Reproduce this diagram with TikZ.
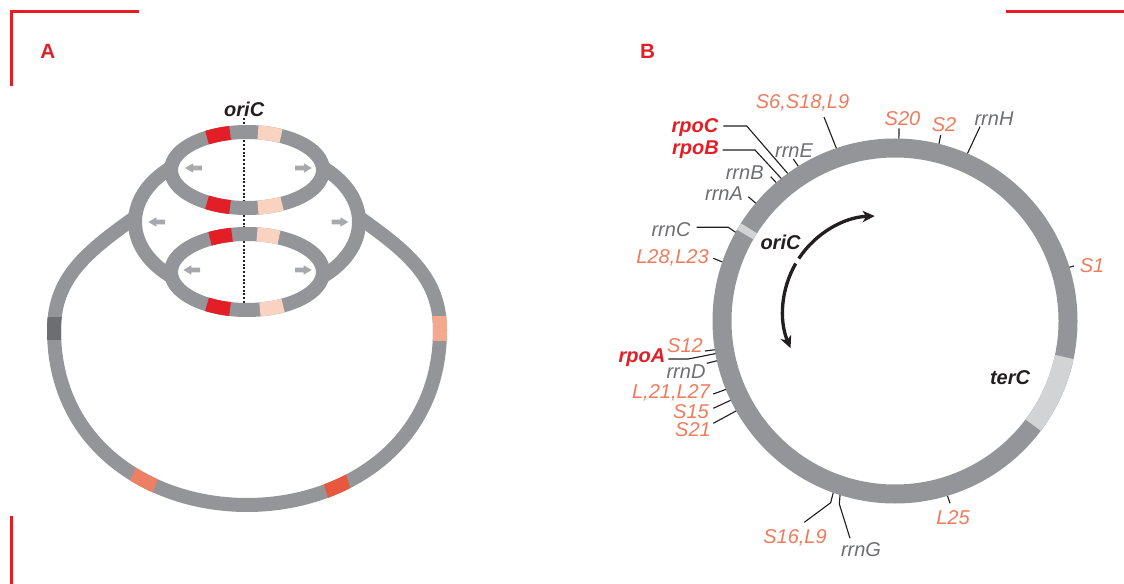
\documentclass[tikz,border=0pt]{standalone}
\usepackage{fontspec}
\setmainfont{Liberation Sans}
\usetikzlibrary{arrows.meta,calc}

\definecolor{ringgray}{HTML}{939598}
\definecolor{lightband}{HTML}{D1D3D4}
\definecolor{darkband}{HTML}{6D6E71}
\definecolor{accentred}{HTML}{E41E26}
\definecolor{peach}{HTML}{FAD2C0}
\definecolor{apricot}{HTML}{F4A88C}
\definecolor{salmon}{HTML}{ED8064}
\definecolor{vermilion}{HTML}{E8583C}
\definecolor{forkgray}{HTML}{A7A9AC}
\definecolor{inkblack}{HTML}{231F20}
\definecolor{labelsalmon}{HTML}{EF7A5C}
\definecolor{labelgray}{HTML}{6D6E71}

% coloured stretch of an elliptic ring: colour, cx, cy, rx, ry, start, end
\newcommand\ellband[7]{%
  \draw[line width=10.5pt,draw=#1] (#2,#3) ++(#6:#4 and #5)
    arc[start angle=#6,end angle=#7,x radius=#4,y radius=#5];}

% outer loop of the replicating chromosome
\def\bigloop{(165,196) .. controls (100,243) and (54,268) .. (54,330)
  .. controls (54,445) and (150,505) .. (247,505)
  .. controls (344,505) and (440,445) .. (440,330)
  .. controls (440,268) and (394,243) .. (329,196)}

\begin{document}
\begin{tikzpicture}[x=0.75pt,y=-0.75pt,
  ringA/.style={draw=ringgray,line width=10.5pt},
  ringB/.style={draw=ringgray,line width=14.25pt},
  leader/.style={draw=inkblack,line width=0.85pt},
  gene/.style={font=\fontsize{15}{18}\selectfont\itshape,inner sep=0pt},
  rprot/.style={gene,text=labelsalmon},
  rrna/.style={gene,text=labelgray},
  rpo/.style={gene,text=accentred,font=\fontsize{15}{18}\selectfont\bfseries\itshape},
  site/.style={gene,text=inkblack,font=\fontsize{15}{18}\selectfont\bfseries\itshape},
  panel/.style={text=accentred,font=\fontsize{15.5}{18}\selectfont\bfseries,inner sep=0pt},
  corner/.style={draw=accentred,line width=2.25pt},
  forkR/.pic={\fill[forkgray] (-8.3,-2.4) -- (0.4,-2.4) -- (0.4,-4.7) -- (8.3,0)
      -- (0.4,4.7) -- (0.4,2.4) -- (-8.3,2.4) -- cycle;},
  forkL/.pic={\fill[forkgray] (8.3,-2.4) -- (-0.4,-2.4) -- (-0.4,-4.7) -- (-8.3,0)
      -- (-0.4,4.7) -- (-0.4,2.4) -- (8.3,2.4) -- cycle;},
  fork/.style={line width=2.5pt,draw=inkblack,
      -{Stealth[length=9pt,width=8.5pt,inset=2.5pt]}},
]
\useasboundingbox (0,0) rectangle (1124,584);

% crop corners
\draw[corner] (139.3,11.8) -- (11.7,11.8) -- (11.7,86);
\draw[corner] (1005.7,11.8) -- (1124,11.8);
\draw[corner] (11.7,516) -- (11.7,584);

% panel letters
\node[panel] (panelA) at (47.8,51.5) {A};
\node[panel] (panelB) at (647.5,51.5) {B};

% ---------------- panel A: theta structures ----------------
\draw[ringA] \bigloop;
\begin{scope}
  \clip (30,318) rectangle (80,340);
  \draw[ringA,draw=darkband] \bigloop;
\end{scope}
\begin{scope}
  \clip (415,317) rectangle (465,341);
  \draw[ringA,draw=apricot] \bigloop;
\end{scope}
\begin{scope}
  \clip[rotate around={-22:(143.5,481)}] (131,461) rectangle (156,501);
  \draw[ringA,draw=salmon] \bigloop;
\end{scope}
\begin{scope}
  \clip[rotate around={17:(337,486)}] (325,466) rectangle (349,506);
  \draw[ringA,draw=vermilion] \bigloop;
\end{scope}

% middle bubble
\draw[ringA,fill=white] (247,222) ellipse [x radius=112,y radius=74];
% inner bubbles
\fill[white] (247,170) ellipse [x radius=76,y radius=38];
\fill[white] (247,272) ellipse [x radius=76,y radius=38];

% origin axis
\node[site] (oriA) at (244.2,109) {oriC};
\coordinate (axisTop) at (244,118);
\coordinate (axisEnd) at (244,304);
\draw[line width=1.5pt,draw=inkblack,dash pattern=on 1.5pt off 1.3pt]
  (axisTop) -- (axisEnd);

\draw[ringA] (247,170) ellipse [x radius=76,y radius=38];
\draw[ringA] (247,272) ellipse [x radius=76,y radius=38];

% marked loci on the inner bubbles
\ellband{accentred}{247}{170}{76}{38}{-121.7}{-102.9}
\ellband{peach}{247}{170}{76}{38}{-81.7}{-63.4}
\ellband{accentred}{247}{170}{76}{38}{121.7}{102.9}
\ellband{peach}{247}{170}{76}{38}{81.7}{62.5}
\ellband{accentred}{247}{272}{76}{38}{-119.1}{-101.4}
\ellband{peach}{247}{272}{76}{38}{-82.4}{-65.1}
\ellband{accentred}{247}{272}{76}{38}{121.7}{102.9}
\ellband{peach}{247}{272}{76}{38}{80.2}{61.7}

% fork movement
\pic at (193.5,168) {forkL};
\pic at (303.5,168) {forkR};
\pic at (156.7,222) {forkL};
\pic at (340,222) {forkR};
\pic at (191.7,270) {forkL};
\pic at (303.3,270) {forkR};

% ---------------- panel B: chromosome map ----------------
\coordinate (bc) at (895,321);
\coordinate (fc) at (878,311);

% points on the chromosome
\path (bc) ++(-108.65:176) coordinate (pS6);
\path (bc) ++(-125.85:176) coordinate (pRpoC);
\path (bc) ++(-128.45:176) coordinate (pRpoB);
\path (bc) ++(-121.9:176) coordinate (pRrnE);
\path (bc) ++(-130.55:176) coordinate (pRrnB);
\path (bc) ++(-139.8:176) coordinate (pRrnA);
\path (bc) ++(-151.1:176) coordinate (pRrnC);
\path (bc) ++(-161.25:176) coordinate (pL28);
\path (bc) ++(170.85:176) coordinate (pS12);
\path (bc) ++(169.73:176) coordinate (pRpoA);
\path (bc) ++(167.45:176) coordinate (pRrnD);
\path (bc) ++(157.9:176) coordinate (pL21);
\path (bc) ++(154.2:176) coordinate (pS15);
\path (bc) ++(150.45:176) coordinate (pS21);
\path (bc) ++(110:176) coordinate (pS16);
\path (bc) ++(108:176) coordinate (pRrnG);
\path (bc) ++(73.36:176) coordinate (pL25);
\path (bc) ++(-88.75:176) coordinate (pS20);
\path (bc) ++(-75.95:176) coordinate (pS2);
\path (bc) ++(-66.67:176) coordinate (pRrnH);
\path (bc) ++(-17.24:176) coordinate (pS1);

% label ends of the leaders
\coordinate (sS6) at (824,117);
\coordinate (sRpoC) at (723.3,126);
\coordinate (sRpoB) at (722.7,150);
\coordinate (sRrnE) at (793.3,159);
\coordinate (sRrnB) at (770.7,176.7);
\coordinate (sRrnA) at (748.3,196.7);
\coordinate (sRrnC) at (696.7,227.3);
\coordinate (sL28) at (713.3,258.3);
\coordinate (sS12) at (705,351);
\coordinate (sRpoA) at (668.3,359);
\coordinate (sRrnD) at (706.7,363.3);
\coordinate (sL21) at (713.3,394);
\coordinate (sS15) at (713.3,408.3);
\coordinate (sS21) at (713.3,423.3);
\coordinate (sS16) at (804.3,522.3);
\coordinate (sRrnG) at (850,538.3);
\coordinate (sL25) at (950,503.3);
\coordinate (sS20) at (899,128.3);
\coordinate (sS2) at (940.7,135);
\coordinate (sRrnH) at (980,126.7);
\coordinate (sS1) at (1074,266);

\draw[leader] (sS6) -- (pS6);
\draw[leader] (sRpoC) -- ++(23.4,0) -- (pRpoC);
\draw[leader] (sRpoB) -- ++(32.3,0) -- (pRpoB);
\draw[leader] (sRrnE) -- (pRrnE);
\draw[leader] (sRrnB) -- (pRrnB);
\draw[leader] (sRrnA) -- (pRrnA);
\draw[leader] (sRrnC) -- ++(31.6,0) -- (pRrnC);
\draw[leader] (sL28) -- (pL28);
\draw[leader] (sS12) -- (pS12);
\draw[leader] (sRpoA) -- ++(20,0) -- (pRpoA);
\draw[leader] (sRrnD) -- (pRrnD);
\draw[leader] (sL21) -- (pL21);
\draw[leader] (sS15) -- (pS15);
\draw[leader] (sS21) -- (pS21);
\draw[leader] (sS16) -- ++(26.4,-19.6) -- (pS16);
\draw[leader] (sRrnG) -- ++(-10.7,-34.3) -- (pRrnG);
\draw[leader] (sL25) -- (pL25);
\draw[leader] (sS20) -- (pS20);
\draw[leader] (sS2) -- (pS2);
\draw[leader] (sRrnH) -- (pRrnH);
\draw[leader] (sS1) -- (pS1);

% the chromosome
\draw[ringB] (bc) circle [radius=173];
\draw[ringB,draw=lightband] (bc) ++(12:173) arc[start angle=12,end angle=37,radius=173];
\draw[ringB,draw=lightband] (bc) ++(-150:173) arc[start angle=-150,end angle=-147.6,radius=173];

% bidirectional replication from the origin
\draw[fork] (fc) ++(-146.5:95) arc[start angle=-146.5,end angle=-92,radius=95];
\draw[fork] (fc) ++(-150:95) arc[start angle=-150,end angle=-203,radius=95];

\node[site] (oriB) at (780.5,242.5) {oriC};
\node[site] (terB) at (1010,378) {terC};

% gene labels
\node[rprot] (tS6) at (802.5,102.5) {S6,S18,L9};
\node[rpo] (tRpoC) at (695,128) {rpoC};
\node[rpo] (tRpoB) at (695.5,150) {rpoB};
\node[rrna] (tRrnE) at (794,151) {rrnE};
\node[rrna] (tRrnB) at (744.7,173) {rrnB};
\node[rrna] (tRrnA) at (724,194) {rrnA};
\node[rrna] (tRrnC) at (671,230) {rrnC};
\node[rprot] (tL28) at (672.5,257.5) {L28,L23};
\node[rprot] (tS12) at (685,346) {S12};
\node[rpo] (tRpoA) at (642,358) {rpoA};
\node[rrna] (tRrnD) at (686,372) {rrnD};
\node[rprot] (tL21) at (671,393) {L,21,L27};
\node[rprot] (tS15) at (691,412) {S15};
\node[rprot] (tS21) at (693,430) {S21};
\node[rprot] (tS16) at (795,537.5) {S16,L9};
\node[rrna] (tRrnG) at (861,550) {rrnG};
\node[rprot] (tL25) at (953,517.5) {L25};
\node[rprot] (tS20) at (902.5,119) {S20};
\node[rprot] (tS2) at (944,124.5) {S2};
\node[rrna] (tRrnH) at (994,119) {rrnH};
\node[rprot] (tS1) at (1092,266) {S1};
\end{tikzpicture}
\end{document}
